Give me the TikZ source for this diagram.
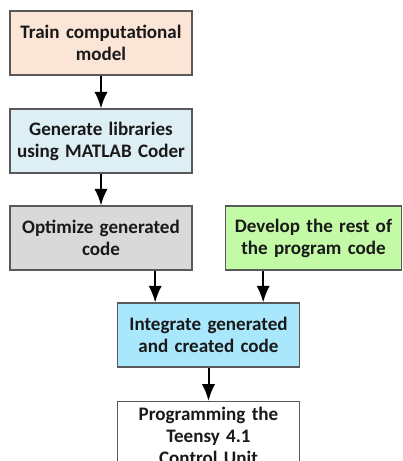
\documentclass[tikz,border=0pt]{standalone}
\usepackage{fontspec}
\setmainfont{Carlito}
\usepackage{xcolor}
\usetikzlibrary{arrows.meta, positioning}

\definecolor{peach}{HTML}{FBE5D6}
\definecolor{paleblue}{HTML}{DDEEF5}
\definecolor{midgray}{HTML}{D9D9D9}
\definecolor{palegreen}{HTML}{C2FAA6}
\definecolor{skyblue}{HTML}{A9E8FC}
\definecolor{edgegray}{HTML}{595959}

\begin{document}
\begin{tikzpicture}[x=0.75pt, y=-0.75pt,
		stepbox/.style={rectangle, draw=edgegray, line width=0.8pt, minimum height=48pt, inner sep=0pt, align=center, text=black!90, font=\fontsize{14.3pt}{16.5pt}\selectfont\bfseries},
		flow/.style={-{Latex[length=12.5pt, width=10pt]}, line width=1.5pt}]
			\clip (0,0) rectangle (403,461);

			\node[stepbox, fill=peach, minimum width=136.5pt, text width=134pt](train) at (101,43) {Train computational\\model};
			\node[stepbox, fill=paleblue, minimum width=136.5pt, text width=134pt](gen) at (101,141) {Generate libraries\\using MATLAB Coder};

			\node[stepbox, fill=midgray, minimum width=136.5pt, text width=134pt](opt) at (101,238) {Optimize generated\\code};
			\node[stepbox, fill=palegreen, minimum width=131.5pt, text width=130pt](dev) at (313.5,238) {Develop the rest of\\the program code};

			\node[stepbox, fill=skyblue, minimum width=137pt, text width=134pt](integ) at (208.5,335) {Integrate generated\\and created code};
			\node[stepbox, fill=white, minimum width=137pt, minimum height=52pt, text width=134pt](prog) at (208.5,436) {Programming the\\Teensy 4.1\\Control Unit};

			\draw[flow](train) -- (gen);
			\draw[flow](gen) -- (opt);

			\draw[flow]([xshift=-40pt]integ.north |- opt.south) -- ([xshift=-40pt]integ.north);
			\draw[flow]([xshift=41pt]integ.north |- dev.south) -- ([xshift=41pt]integ.north);

			\draw[flow](integ) -- (prog);
		\end{tikzpicture}
\end{document}
